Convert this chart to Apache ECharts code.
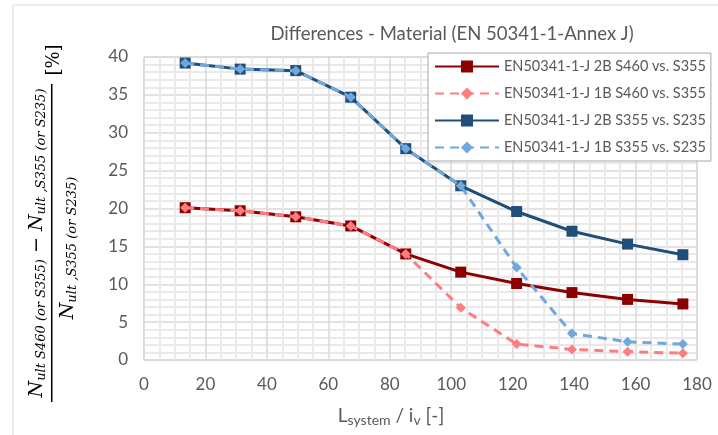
<!DOCTYPE html>
<html>
<head>
<meta charset="utf-8">
<script src="https://cdn.jsdelivr.net/npm/echarts@6/dist/echarts.min.js"></script>
<style>
  html, body { margin: 0; padding: 0; background: #fff; }
  #chart { width: 718px; height: 435px; }
</style>
</head>
<body>
<div id="chart"></div>
<script>
// slenderness L_system / i_v
const slenderness = [13.4, 31.3, 49.4, 67.3, 85.2, 103.1, 121.3, 139.3, 157.4, 175.4]

const s460_2B = [20.1, 19.7, 18.9, 17.7, 14.0, 11.6, 10.1, 8.9, 8.0, 7.4]
const s460_1B = [20.1, 19.7, 18.9, 17.7, 14.0, 6.9, 2.1, 1.4, 1.1, 0.9]
const s355_2B = [39.2, 38.4, 38.2, 34.7, 27.9, 23.0, 19.6, 17.0, 15.3, 13.9]
const s355_1B = [39.2, 38.4, 38.2, 34.7, 27.9, 23.0, 12.2, 3.5, 2.4, 2.1]

const seriesNames = [
  'EN50341-1-J 2B S460 vs. S355',
  'EN50341-1-J 1B S460 vs. S355',
  'EN50341-1-J 2B S355 vs. S235',
  'EN50341-1-J 1B S355 vs. S235'
]

const pairs = (ys) => slenderness.map((x, i) => [x, ys[i]])

const textGrey = '#595959'
const font = 'Lato'
const mathFont = 'DejaVu Serif'

const chart = echarts.init(document.getElementById('chart'))

function mkSeries(name, ys, color, dashed, z) {
  return {
    name: name,
    type: 'line',
    data: pairs(ys),
    z: z,
    symbol: dashed ? 'diamond' : 'rect',
    symbolSize: dashed ? 10 : 11,
    itemStyle: { color: color },
    lineStyle: { color: color, width: 3, type: dashed ? [9, 6] : 'solid' },
    animation: false
  }
}

// fraction pieces for the y-axis title (rotated text, subscripts pushed down with padding)
const mathRich = {
  n: { fontFamily: mathFont, fontStyle: 'italic', fontSize: 19, color: '#000', lineHeight: 24 },
  s: { fontFamily: mathFont, fontStyle: 'italic', fontSize: 13, color: '#000', lineHeight: 24, padding: [9, 0, 0, 0] },
  p: { fontFamily: mathFont, fontSize: 19, color: '#000', lineHeight: 24 }
}

chart.setOption({
  backgroundColor: '#fff',
  title: {
    text: 'Differences - Material (EN 50341-1-Annex J)',
    left: 447,
    top: 20,
    textAlign: 'center',
    textStyle: { fontFamily: font, fontSize: 18.5, fontWeight: 'normal', color: textGrey }
  },
  grid: {
    left: 144, right: 21, top: 57, bottom: 75,
    show: true, borderColor: '#c8c8c8', borderWidth: 1
  },
  legend: {
    orient: 'vertical',
    left: 428,
    top: 53,
    padding: [6, 5, 6, 6],
    itemGap: 12,
    itemWidth: 64,
    itemHeight: 15,
    backgroundColor: '#fff',
    borderColor: '#a6a6a6',
    borderWidth: 1,
    textStyle: { fontFamily: font, fontSize: 14.5, color: textGrey },
    data: seriesNames
  },
  xAxis: {
    type: 'value',
    min: 0, max: 180, interval: 20,
    axisLine: { show: false },
    axisTick: { show: false },
    axisLabel: { fontFamily: font, fontSize: 17, color: textGrey, margin: 16 },
    splitLine: { lineStyle: { color: '#d9d9d9', width: 1.5 } },
    minorTick: { show: false, splitNumber: 4 },
    minorSplitLine: { show: true, lineStyle: { color: '#e9e9e9', width: 2 } }
  },
  yAxis: {
    type: 'value',
    min: 0, max: 40, interval: 5,
    axisLine: { show: false },
    axisTick: { show: false },
    axisLabel: { fontFamily: font, fontSize: 17, color: textGrey, margin: 16 },
    splitLine: { lineStyle: { color: '#d9d9d9', width: 1.5 } },
    minorTick: { show: false, splitNumber: 5 },
    minorSplitLine: { show: true, lineStyle: { color: '#e9e9e9', width: 2 } }
  },
  graphic: [
    { type: 'rect', silent: true, z: -10,
      shape: { x: 13, y: 5, width: 720, height: 440 },
      style: { fill: 'none', stroke: '#d9d9d9', lineWidth: 1 } },
    // x axis name
    { type: 'text', x: 391, y: 416,
      style: {
        text: 'L{sub|system} / i{sub|v} [-]',
        fontFamily: font, fontSize: 19, fill: textGrey,
        align: 'center', verticalAlign: 'middle',
        rich: { sub: { fontFamily: font, fontSize: 14, color: textGrey, padding: [9, 0, 0, 0] } }
      } },
    // y axis name as fraction
    { type: 'text', x: 37, y: 243, rotation: Math.PI / 2,
      style: {
        text: '{n|N}{s|ult S460 (or S355)}{p| − }{n|N}{s|ult ,S355 (or S235)}',
        rich: mathRich, align: 'center', verticalAlign: 'middle'
      } },
    { type: 'rect', silent: true,
      shape: { x: 51, y: 84, width: 1.5, height: 318 },
      style: { fill: '#000' } },
    { type: 'text', x: 68, y: 248, rotation: Math.PI / 2,
      style: {
        text: '{n|N}{s|ult ,S355 (or S235)}',
        rich: mathRich, align: 'center', verticalAlign: 'middle'
      } },
    { type: 'text', x: 54, y: 60, rotation: Math.PI / 2,
      style: {
        text: '[%]', font: '18px "DejaVu Serif"', fill: '#000',
        align: 'center', verticalAlign: 'middle'
      } }
  ],
  series: [
    mkSeries(seriesNames[0], s460_2B, '#8b0000', false, 2),
    mkSeries(seriesNames[1], s460_1B, '#ff7c80', true, 4),
    mkSeries(seriesNames[2], s355_2B, '#1f4e79', false, 3),
    mkSeries(seriesNames[3], s355_1B, '#6fa8dc', true, 5)
  ]
})
</script>
</body>
</html>
